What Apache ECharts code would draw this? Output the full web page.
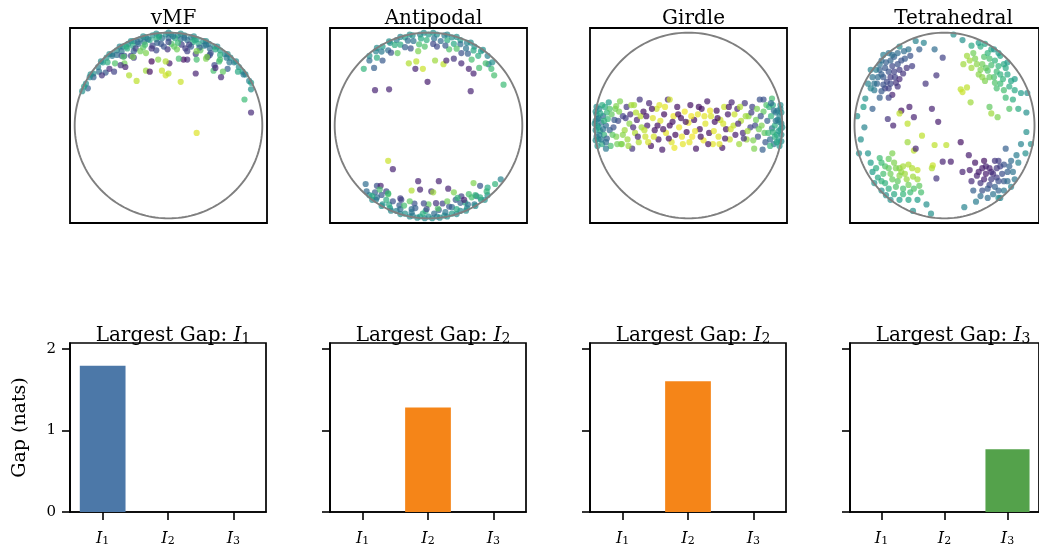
<!DOCTYPE html>
<html>
<head>
<meta charset="utf-8">
<script src="https://cdn.jsdelivr.net/npm/echarts@6/dist/echarts.min.js"></script>
<style>html,body{margin:0;padding:0;background:#fff}#c{width:1039px;height:548px}</style>
</head>
<body>
<div id="c"></div>
<script>
// ---- data (x, y on the unit disk; third value = colour value 0..1) ----
const vmfPts = [
[-0.80,0.56,.5],[-0.75,0.63,.45],[-0.70,0.68,.55],[-0.66,0.73,.5],[-0.60,0.77,.42],[-0.55,0.81,.5],[-0.49,0.85,.55],[-0.43,0.88,.45],[-0.37,0.91,.5],[-0.30,0.93,.4],[-0.24,0.95,.55],[-0.17,0.97,.5],[-0.10,0.97,.45],[-0.03,0.98,.5],[0.03,0.98,.55],[0.10,0.97,.45],[0.17,0.97,.5],[0.24,0.95,.42],[0.30,0.93,.55],[0.37,0.91,.5],[0.43,0.88,.45],[0.49,0.85,.5],[0.55,0.81,.55],[0.60,0.77,.45],[0.66,0.73,.5],[0.70,0.68,.42],[0.75,0.63,.5],[0.79,0.58,.55],
[-0.72,0.69,.48],[-0.63,0.77,.5],[-0.52,0.85,.46],[-0.40,0.91,.5],[-0.27,0.96,.48],[-0.13,0.99,.5],[0.00,1.00,.47],[0.13,0.99,.5],[0.27,0.96,.48],[0.40,0.91,.5],[0.52,0.85,.46],[0.63,0.77,.5],[0.72,0.69,.48],
[-0.74,0.58,.38],[-0.65,0.68,.62],[-0.55,0.76,.36],[-0.44,0.83,.64],[-0.32,0.88,.35],[-0.20,0.92,.6],[-0.07,0.94,.38],[0.07,0.94,.62],[0.20,0.92,.36],[0.32,0.88,.6],[0.44,0.83,.35],[0.55,0.76,.64],[0.65,0.68,.4],[0.74,0.58,.6],
[-0.26,0.90,.4],[-0.13,0.93,.62],[0.00,0.94,.36],[0.13,0.93,.38],[0.26,0.90,.62],[0.38,0.86,.4],[-0.38,0.86,.6],[-0.50,0.80,.38],
[-0.60,0.75,.4],[-0.45,0.85,.6],[-0.33,0.90,.35],[-0.22,0.93,.4],[-0.10,0.955,.6],[0.05,0.96,.4],[0.17,0.945,.35],[0.28,0.92,.6],[0.40,0.87,.38],[0.50,0.82,.6],[0.62,0.73,.4],
[-0.67,0.57,.28],[-0.57,0.67,.72],[-0.47,0.75,.25],[-0.37,0.80,.3],[-0.27,0.84,.74],[-0.17,0.86,.22],[-0.08,0.88,.28],[0.03,0.88,.72],[0.14,0.87,.2],[0.24,0.85,.3],[0.34,0.81,.75],[0.44,0.76,.24],[0.54,0.69,.7],[0.63,0.61,.3],
[-0.50,0.75,.25],[-0.35,0.83,.2],[-0.25,0.87,.7],[-0.12,0.89,.3],[0.00,0.90,.22],[0.10,0.89,.68],[0.22,0.87,.2],[0.33,0.84,.3],[0.45,0.78,.25],[0.55,0.71,.7],
[-0.58,0.58,.2],[-0.47,0.67,.78],[-0.37,0.73,.18],[-0.24,0.78,.8],[-0.13,0.81,.22],[-0.01,0.82,.15],[0.09,0.82,.78],[0.20,0.80,.2],[0.29,0.77,.18],[0.40,0.72,.8],[0.49,0.65,.22],[0.58,0.58,.75],
[-0.40,0.75,.2],[-0.30,0.80,.78],[-0.18,0.83,.15],[-0.05,0.85,.25],[0.06,0.85,.75],[0.18,0.83,.18],[0.30,0.80,.8],[0.42,0.74,.2],
[-0.86,0.40,.3],[-0.92,0.37,.5],[-0.80,0.52,.3],[-0.71,0.54,.15],[-0.63,0.61,.12],[-0.51,0.65,.15],[-0.46,0.63,.1],[-0.34,0.48,.9],[-0.42,0.54,.88],[-0.24,0.59,.85],[-0.20,0.58,.05],[-0.07,0.59,.92],[-0.03,0.54,.93],[0.00,0.56,.9],[0.13,0.47,.92],[0.01,0.67,.08],[-0.11,0.71,.82],[-0.18,0.69,.02],[-0.03,0.69,.88],[0.29,0.56,.1],[0.56,0.52,.12],[0.48,0.59,.7],[0.50,0.62,.12],[0.20,0.71,.12],[0.16,0.71,.05],[0.11,0.72,.7],[0.41,0.74,.8],[0.30,0.71,.7],[-0.48,0.74,.72],[-0.38,0.74,.8],
[-0.88,0.45,.5],[-0.84,0.52,.45],[-0.90,0.42,.55],[-0.83,0.55,.5],[0.82,0.55,.5],[0.86,0.48,.45],
[0.30,-0.08,.95],[0.88,0.14,.12],[0.81,0.28,.68],[0.88,0.39,.5],[0.88,0.46,.55],[0.80,0.55,.4]
];
const antipodalPts = [
[-0.63,0.75,.5],[-0.56,0.80,.45],[-0.49,0.85,.55],[-0.41,0.89,.5],[-0.34,0.92,.42],[-0.25,0.95,.55],[-0.17,0.97,.5],[-0.09,0.98,.45],[0.00,0.98,.55],[0.09,0.98,.5],[0.17,0.97,.42],[0.25,0.95,.5],[0.34,0.92,.55],[0.41,0.89,.45],[0.49,0.85,.5],[0.56,0.80,.55],[0.63,0.75,.45],
[-0.55,0.835,.48],[-0.42,0.907,.5],[-0.30,0.954,.46],[-0.20,0.98,.5],[-0.05,0.999,.48],[0.05,0.999,.5],[0.20,0.98,.46],[0.30,0.954,.5],[0.45,0.893,.48],[0.58,0.815,.5],
[-0.55,0.73,.62],[-0.43,0.81,.36],[-0.30,0.87,.62],[-0.16,0.91,.38],[-0.02,0.92,.64],[0.13,0.91,.35],[0.27,0.88,.6],[0.40,0.83,.38],[0.53,0.75,.62],[0.64,0.66,.4],
[-0.50,0.796,.4],[-0.36,0.868,.62],[-0.22,0.914,.35],[-0.08,0.937,.6],[0.06,0.938,.38],[0.20,0.918,.62],[0.34,0.876,.36],[0.48,0.808,.6],
[-0.49,0.70,.28],[-0.33,0.78,.75],[-0.19,0.83,.25],[-0.04,0.85,.72],[0.09,0.85,.22],[0.22,0.82,.72],[0.35,0.78,.25],[0.46,0.71,.7],[-0.58,0.62,.3],
[-0.40,0.784,.25],[-0.25,0.844,.3],[-0.10,0.874,.7],[0.05,0.879,.22],[0.18,0.861,.28],[0.30,0.827,.72],[0.42,0.773,.3],
[-0.57,0.38,.1],[-0.42,0.39,.1],[-0.01,0.47,.08],[0.45,0.37,.1],[-0.21,0.67,.88],[-0.13,0.69,.9],[-0.06,0.61,.92],[0.07,0.70,.85],[0.16,0.66,.9],[0.19,0.70,.1],[0.27,0.72,.15],[0.35,0.67,.12],[0.43,0.61,.1],[0.48,0.56,.1],[0.54,0.62,.7],[0.61,0.67,.7],[0.67,0.61,.68],[0.70,0.54,.7],[0.80,0.44,.68],[0.68,0.68,.5],[-0.69,0.61,.65],[-0.63,0.70,.35],[-0.11,0.80,.8],[-0.14,0.61,.1],
[-0.63,-0.75,.5],[-0.56,-0.80,.45],[-0.49,-0.85,.5],[-0.41,-0.89,.55],[-0.34,-0.92,.45],[-0.25,-0.95,.5],[-0.17,-0.97,.4],[-0.09,-0.98,.55],[0.00,-0.98,.5],[0.09,-0.98,.45],[0.17,-0.97,.5],[0.25,-0.95,.55],[0.34,-0.92,.45],[0.41,-0.89,.5],[0.49,-0.85,.4],[0.56,-0.80,.5],[0.63,-0.75,.5],
[-0.60,-0.80,.48],[-0.50,-0.866,.5],[-0.40,-0.917,.46],[-0.30,-0.954,.5],[-0.20,-0.98,.48],[-0.12,-0.993,.5],[-0.04,-0.999,.46],[0.04,-0.999,.5],[0.12,-0.993,.48],[0.20,-0.98,.5],[0.30,-0.954,.46],[0.40,-0.917,.5],[0.50,-0.866,.48],[0.60,-0.80,.5],
[-0.57,-0.72,.3],[-0.45,-0.80,.62],[-0.31,-0.86,.3],[-0.18,-0.90,.35],[-0.03,-0.92,.62],[0.11,-0.91,.3],[0.25,-0.88,.35],[0.39,-0.83,.62],[0.51,-0.76,.32],[0.63,-0.67,.6],
[-0.55,-0.775,.38],[-0.42,-0.852,.6],[-0.30,-0.901,.36],[-0.18,-0.933,.4],[-0.06,-0.948,.62],[0.06,-0.948,.35],[0.18,-0.933,.4],[0.30,-0.901,.6],[0.42,-0.852,.38],[0.55,-0.775,.62],
[-0.55,-0.65,.25],[-0.43,-0.74,.72],[-0.29,-0.80,.22],[-0.15,-0.84,.25],[0.00,-0.85,.75],[0.15,-0.84,.2],[0.29,-0.80,.28],[0.43,-0.74,.7],[0.55,-0.65,.25],
[-0.50,-0.748,.28],[-0.38,-0.816,.25],[-0.26,-0.862,.7],[-0.14,-0.889,.3],[-0.02,-0.90,.22],[0.10,-0.894,.72],[0.22,-0.873,.28],[0.34,-0.833,.3],[0.46,-0.774,.7],
[-0.45,-0.709,.2],[-0.30,-0.785,.18],[-0.20,-0.816,.75],[-0.05,-0.839,.22],[0.08,-0.836,.15],[0.20,-0.816,.78],[0.35,-0.764,.2],
[-0.43,-0.38,.92],[-0.38,-0.47,.1],[-0.11,-0.60,.1],[0.11,-0.60,.1],[0.48,-0.62,.8],[0.77,-0.58,.45],[0.71,-0.63,.65],[-0.67,-0.63,.35],[-0.51,-0.65,.1],[-0.52,-0.69,.7],[-0.43,-0.73,.68],[-0.18,-0.70,.88],[-0.09,-0.69,.1],[0.03,-0.71,.12],[0.05,-0.72,.85],[0.21,-0.68,.1],[0.27,-0.72,.8],[0.31,-0.78,.65],[0.38,-0.80,.1],[0.50,-0.75,.65],[0.62,-0.71,.65],[-0.66,-0.71,.35],[-0.60,-0.76,.6]
];
const girdlePts = [
[-0.99,0.05,.5],[-0.99,-0.05,.48],[-0.98,0.12,.52],[-0.98,-0.12,.45],[-0.97,0.00,.5],[-0.96,0.08,.4],[-0.96,-0.15,.55],[-0.95,0.18,.45],[-0.94,-0.06,.6],[-0.93,0.03,.38],[-0.92,-0.20,.62],[-0.91,0.10,.35],[-0.90,-0.10,.65],[-0.89,0.20,.6],[-0.88,0.00,.35],[-0.87,-0.14,.3],[-0.86,0.07,.68],[-0.85,0.25,.55],[-0.84,-0.05,.32],[-0.83,-0.22,.7],
[-1.00,0.02,.5],[-0.99,0.15,.5],[-0.99,-0.16,.5],[-0.98,0.20,.48],[-0.97,-0.22,.52],[-0.97,0.07,.45],[-0.96,-0.02,.55],[-0.95,-0.10,.42],[-0.94,0.13,.58],[-0.93,-0.15,.4],[-0.92,0.22,.62],[-0.91,-0.04,.38],[-0.90,0.05,.64],[-0.88,-0.18,.36],[-0.87,0.14,.66],
[-0.82,0.12,.75],[-0.80,-0.02,.25],[-0.78,0.18,.78],[-0.77,-0.12,.8],[-0.75,0.05,.22],[-0.73,0.26,.8],[-0.72,-0.20,.82],[-0.70,0.10,.2],[-0.68,-0.05,.85],[-0.66,0.20,.15],[-0.65,-0.15,.85],[-0.63,0.02,.82],[-0.62,0.12,.12],[-0.60,-0.25,.15],[-0.58,0.22,.85],[-0.57,-0.08,.88],[-0.55,0.06,.1],[-0.53,-0.18,.88],[-0.52,0.28,.15],[-0.50,-0.02,.85],[-0.77,0.21,.8],[-0.71,-0.20,.8],[-0.88,-0.25,.4],
[-0.84,0.18,.72],[-0.81,-0.10,.75],[-0.79,0.06,.28],[-0.76,-0.20,.78],[-0.74,0.15,.8],[-0.70,-0.10,.82],[-0.67,0.08,.18],[-0.64,-0.22,.85],[-0.61,0.22,.86],[-0.59,-0.02,.12],[-0.56,0.14,.88],[-0.54,-0.12,.1],[-0.51,0.10,.9],
[-0.48,0.15,.05],[-0.46,-0.12,.92],[-0.44,0.00,.08],[-0.42,0.24,.1],[-0.40,-0.22,.05],[-0.38,0.08,.95],[-0.36,-0.05,.05],[-0.34,0.18,.92],[-0.32,-0.15,.06],[-0.30,0.05,.95],[-0.28,-0.26,.07],[-0.26,0.12,.04],[-0.24,-0.08,.96],[-0.22,0.28,.1],[-0.20,0.00,.03],[-0.18,-0.18,.95],[-0.16,0.10,.97],[-0.14,-0.10,.03],[-0.12,0.20,.05],[-0.10,-0.02,.97],[-0.08,0.08,.04],[-0.06,-0.20,.96],[-0.04,0.15,.98],[-0.02,-0.07,.03],[0.00,0.03,.97],[0.02,0.22,.05],[0.04,-0.12,.98],[0.06,0.06,.04],[0.08,-0.25,.06],[0.10,0.12,.96],[0.12,-0.04,.03],[0.14,0.18,.05],[0.16,-0.16,.97],[0.18,0.02,.95],[0.20,0.26,.07],[0.22,-0.08,.04],[0.24,0.10,.94],[0.26,-0.20,.96],[0.28,0.04,.05],[0.30,0.16,.04],[0.32,-0.12,.95],[0.34,0.06,.92],[0.36,-0.24,.06],[0.38,0.20,.92],[0.40,-0.04,.04],[0.42,0.12,.07],[0.44,-0.15,.92],[0.46,0.25,.1],[0.48,0.00,.9],[0.50,-0.10,.08],[-0.20,0.28,.93],
[-0.47,-0.05,.9],[-0.45,0.10,.06],[-0.43,-0.18,.94],[-0.39,0.18,.05],[-0.37,-0.12,.94],[-0.33,0.00,.04],[-0.31,0.22,.95],[-0.27,-0.04,.05],[-0.25,0.20,.96],[-0.21,-0.14,.04],[-0.17,0.04,.05],[-0.15,-0.24,.97],[-0.11,0.12,.03],[-0.07,-0.12,.97],[-0.03,0.04,.04],[0.01,-0.18,.96],[0.03,0.10,.98],[0.07,-0.06,.97],[0.11,0.20,.04],[0.13,-0.12,.04],[0.17,0.10,.96],[0.21,-0.20,.05],[0.23,0.16,.97],[0.27,-0.06,.96],[0.31,0.08,.03],[0.33,-0.20,.95],[0.37,0.02,.94],[0.39,-0.14,.06],[0.43,0.20,.06],[0.45,-0.04,.93],[0.49,0.12,.92],
[0.52,0.18,.1],[0.54,-0.20,.85],[0.56,0.05,.88],[0.58,-0.08,.12],[0.60,0.24,.15],[0.62,-0.15,.85],[0.64,0.10,.82],[0.66,-0.02,.2],[0.68,0.20,.2],[0.70,-0.25,.8],[0.72,0.06,.78],[0.74,-0.12,.22],[0.76,0.28,.25],[0.78,0.00,.8],[0.80,0.15,.75],[0.82,-0.18,.28],[0.80,0.28,.25],[0.79,-0.26,.3],
[0.53,0.02,.1],[0.55,0.20,.88],[0.59,-0.14,.14],[0.61,0.10,.85],[0.63,-0.06,.86],[0.67,0.14,.18],[0.69,-0.16,.8],[0.71,0.00,.22],[0.73,0.18,.8],[0.75,-0.04,.78],[0.77,0.10,.25],[0.81,-0.08,.75],[0.83,0.22,.72],
[0.84,0.05,.3],[0.85,-0.08,.68],[0.86,0.20,.65],[0.87,-0.15,.35],[0.88,0.10,.65],[0.89,-0.03,.35],[0.90,0.22,.6],[0.91,-0.20,.38],[0.92,0.00,.62],[0.93,0.14,.4],[0.94,-0.10,.58],[0.95,0.06,.42],[0.96,-0.16,.55],[0.97,0.10,.45],[0.98,-0.04,.52],[0.98,0.18,.48],[0.99,0.02,.5],[0.99,-0.10,.5],[0.89,0.29,.7],
[1.00,-0.02,.5],[0.99,0.14,.5],[0.99,-0.17,.5],[0.98,0.22,.48],[0.97,-0.22,.52],[0.97,0.04,.45],[0.96,-0.06,.55],[0.95,0.16,.42],[0.94,-0.18,.58],[0.93,0.05,.4],[0.92,-0.12,.62],[0.91,0.16,.38],[0.90,-0.07,.64],[0.88,0.24,.36],[0.87,-0.22,.66]
];
const tetraPts = [
[-0.62,0.58,.25],[-0.68,0.52,.28],[-0.58,0.64,.22],[-0.72,0.60,.3],[-0.55,0.52,.2],[-0.65,0.68,.3],[-0.75,0.45,.32],[-0.50,0.60,.18],[-0.60,0.45,.22],[-0.70,0.70,.35],[-0.48,0.70,.25],[-0.80,0.52,.38],[-0.66,0.40,.2],[-0.56,0.74,.3],[-0.78,0.38,.4],[-0.42,0.62,.15],[-0.52,0.42,.15],[-0.62,0.78,.38],[-0.85,0.45,.45],[-0.45,0.80,.35],[-0.72,0.30,.3],[-0.38,0.75,.25],[-0.32,0.91,.45],[-0.23,0.89,.45],[-0.28,0.82,.3],[-0.88,0.29,.5],[-0.90,0.20,.55],[-0.82,0.60,.45],[-0.58,0.33,.1],
[-0.66,0.62,.28],[-0.60,0.70,.32],[-0.70,0.55,.3],[-0.64,0.47,.22],[-0.56,0.58,.2],[-0.74,0.52,.35],[-0.68,0.44,.25],[-0.60,0.52,.18],[-0.52,0.66,.25],[-0.78,0.45,.38],[-0.72,0.66,.38],[-0.62,0.40,.2],[-0.54,0.46,.16],[-0.46,0.56,.15],[-0.58,0.76,.36],[-0.68,0.76,.42],[-0.76,0.60,.42],[-0.82,0.40,.45],[-0.50,0.50,.12],[-0.44,0.72,.28],[-0.52,0.78,.35],[-0.40,0.82,.38],[-0.62,0.30,.2],[-0.70,0.37,.28],[-0.36,0.64,.18],
[0.48,0.59,.72],[0.42,0.66,.78],[0.55,0.52,.7],[0.38,0.55,.82],[0.60,0.64,.65],[0.50,0.72,.7],[0.45,0.48,.8],[0.65,0.50,.65],[0.34,0.72,.8],[0.58,0.40,.7],[0.68,0.62,.6],[0.30,0.62,.85],[0.52,0.82,.6],[0.40,0.85,.62],[0.72,0.42,.62],[0.62,0.75,.58],[0.25,0.75,.85],[0.78,0.50,.55],[0.68,0.30,.68],[0.38,0.89,.55],[0.20,0.92,.5],[0.85,0.35,.55],[0.82,0.18,.6],[0.72,0.18,.72],[0.91,0.14,.5],
[0.52,0.65,.7],[0.46,0.62,.75],[0.58,0.58,.68],[0.44,0.74,.72],[0.56,0.70,.65],[0.62,0.55,.64],[0.50,0.52,.76],[0.40,0.60,.8],[0.66,0.66,.6],[0.36,0.66,.82],[0.48,0.78,.65],[0.62,0.45,.68],[0.70,0.55,.6],[0.32,0.78,.78],[0.42,0.52,.82],[0.56,0.46,.72],[0.74,0.48,.58],[0.28,0.70,.85],[0.45,0.88,.58],[0.30,0.86,.6],[0.60,0.78,.55],[0.70,0.68,.55],[0.78,0.38,.6],[0.66,0.38,.7],[0.76,0.28,.62],
[0.18,0.39,.9],[0.20,0.36,.92],[0.25,0.41,.9],[0.29,0.25,.85],[0.52,0.13,.85],[0.59,0.09,.8],[0.50,0.20,.75],
[-0.50,-0.46,.82],[-0.56,-0.40,.8],[-0.44,-0.52,.85],[-0.60,-0.52,.78],[-0.40,-0.42,.88],[-0.52,-0.60,.75],[-0.66,-0.44,.72],[-0.35,-0.55,.85],[-0.58,-0.30,.8],[-0.46,-0.68,.7],[-0.70,-0.60,.65],[-0.30,-0.48,.9],[-0.62,-0.68,.62],[-0.38,-0.72,.68],[-0.72,-0.35,.68],[-0.28,-0.65,.75],[-0.80,-0.50,.55],[-0.50,-0.80,.55],[-0.30,-0.80,.55],[-0.85,-0.30,.52],[-0.93,-0.15,.5],[-0.65,-0.75,.5],[-0.20,-0.85,.5],[-0.15,-0.95,.5],
[-0.48,-0.50,.84],[-0.54,-0.46,.8],[-0.46,-0.44,.86],[-0.58,-0.58,.76],[-0.42,-0.58,.84],[-0.62,-0.46,.75],[-0.50,-0.54,.82],[-0.36,-0.46,.88],[-0.54,-0.66,.72],[-0.68,-0.52,.7],[-0.40,-0.64,.78],[-0.62,-0.36,.76],[-0.30,-0.58,.85],[-0.70,-0.40,.68],[-0.46,-0.74,.66],[-0.34,-0.68,.72],[-0.74,-0.56,.6],[-0.56,-0.74,.6],[-0.76,-0.46,.62],[-0.26,-0.72,.7],[-0.66,-0.62,.64],[-0.40,-0.80,.58],[-0.82,-0.40,.55],[-0.78,-0.62,.52],[-0.60,-0.80,.5],
[0.52,-0.50,.12],[0.46,-0.44,.1],[0.58,-0.56,.18],[0.44,-0.58,.1],[0.62,-0.44,.2],[0.50,-0.64,.22],[0.38,-0.50,.08],[0.66,-0.60,.28],[0.56,-0.38,.15],[0.42,-0.70,.25],[0.70,-0.50,.3],[0.34,-0.40,.06],[0.60,-0.70,.32],[0.74,-0.38,.35],[0.30,-0.60,.12],[0.48,-0.78,.35],[0.78,-0.58,.4],[0.82,-0.40,.45],[0.68,-0.25,.3],[0.85,-0.20,.45],[0.90,-0.30,.5],[0.35,-0.82,.42],[0.22,-0.88,.45],[0.62,-0.78,.45],[0.91,-0.07,.5],
[0.50,-0.46,.1],[0.54,-0.52,.14],[0.46,-0.52,.08],[0.58,-0.46,.16],[0.52,-0.58,.18],[0.42,-0.46,.08],[0.60,-0.60,.24],[0.64,-0.52,.24],[0.48,-0.68,.28],[0.40,-0.62,.15],[0.56,-0.66,.3],[0.66,-0.42,.25],[0.36,-0.54,.1],[0.70,-0.60,.35],[0.72,-0.44,.32],[0.44,-0.38,.05],[0.60,-0.38,.18],[0.54,-0.74,.38],[0.66,-0.70,.4],[0.76,-0.50,.38],[0.40,-0.76,.35],[0.80,-0.32,.42],[0.28,-0.48,.08],[0.32,-0.70,.3],[0.74,-0.66,.45],
[-0.48,0.16,.05],[-0.39,0.20,.08],[-0.34,0.09,.1],[-0.14,0.18,.1],[-0.07,0.04,.08],[-0.63,0.07,.15],[-0.57,0.00,.1],[-0.80,0.18,.3],[-0.89,-0.02,.45],
[-0.50,0.13,.9],[-0.41,0.02,.9],[-0.25,-0.11,.9],[-0.41,-0.18,.85],[-0.34,-0.27,.9],[-0.11,-0.21,.9],[0.02,-0.21,.9],[-0.13,-0.43,.92],[-0.14,-0.46,.88],
[0.18,-0.18,.05],[0.07,-0.39,.08],[0.20,-0.50,.1],[0.27,-0.32,.08],[-0.02,-0.39,.1],[-0.32,-0.25,.1],[-0.09,-0.57,.15],
[-0.11,0.82,.35],[-0.02,0.73,.2],[-0.09,0.54,.15],[-0.21,0.45,.15],[0.21,0.66,.85],
[-0.97,0.10,.5],[-0.95,-0.30,.5],[-0.50,0.85,.48],[0.10,0.98,.5],[0.55,0.82,.52],[0.92,0.35,.5],[0.96,-0.20,.5],[0.60,-0.78,.48],[-0.70,-0.70,.5],[-0.35,-0.92,.5]
];
const panelTitles = ['vMF', 'Antipodal', 'Girdle', 'Tetrahedral'];
const gapCategories = ['I1', 'I2', 'I3'];
const gapValues = [
  [1.79, 0, 0],
  [0, 1.28, 0],
  [0, 1.60, 0],
  [0, 0, 0.77]
];
const largestGap = ['I1', 'I2', 'I2', 'I3'];
const yTickValues = [0, 1, 2];
const yMax = 2.07;

// ---- styling ----
const FONT = 'DejaVu Serif';
const barColors = ['#4c78a8', '#f58518', '#f58518', '#54a24b'];
const viridis = ['#440154','#482878','#3e4989','#31688e','#26828e','#1f9e89','#35b779','#6ece58','#b5de2b','#fde725'];
const mathLabel = s => '{i|' + s[0] + '}{s|' + s.slice(1) + '}';

const pointSets = [vmfPts, antipodalPts, girdlePts, tetraPts];
const step = 260, left0 = 70;

// unit circle outline (sphere rim)
const rim = [];
for (let k = 0; k <= 180; k++) { const a = k / 180 * 2 * Math.PI; rim.push([Math.cos(a), Math.sin(a)]); }

const grids = [], xAxes = [], yAxes = [], series = [], titles = [];
for (let i = 0; i < 4; i++) {
  grids.push({left: left0 + i*step, top: 28, width: 197, height: 195, show: true, borderColor: '#000', borderWidth: 1.8, backgroundColor: '#fff'});
  xAxes.push({type: 'value', gridIndex: i, min: -1.05, max: 1.05, show: false});
  yAxes.push({type: 'value', gridIndex: i, min: -1.05, max: 1.05, show: false});
  titles.push({text: panelTitles[i], left: left0 + i*step + 98.5, top: 4, textAlign: 'center',
    textStyle: {fontFamily: FONT, fontSize: 20, fontWeight: 'normal', color: '#000'}});
}
for (let i = 0; i < 4; i++) {
  const g = 4 + i;
  grids.push({left: left0 + i*step, top: 343, width: 196, height: 169, show: true, borderColor: '#000', borderWidth: 1.7, backgroundColor: '#fff'});
  xAxes.push({type: 'category', gridIndex: g, data: gapCategories,
    axisLine: {show: true, lineStyle: {color: '#000', width: 1.7}},
    axisTick: {show: true, alignWithLabel: true, length: 8, lineStyle: {color: '#000', width: 1.6}},
    axisLabel: {margin: 15, formatter: v => mathLabel(v), rich: {
      i: {fontFamily: FONT, fontStyle: 'italic', fontSize: 16, lineHeight: 20, verticalAlign: 'bottom', color: '#000'},
      s: {fontFamily: FONT, fontSize: 11, lineHeight: 11, verticalAlign: 'bottom', color: '#000'}}},
    splitLine: {show: false}});
  yAxes.push({type: 'value', gridIndex: g, min: 0, max: yMax,
    axisLine: {show: true, lineStyle: {color: '#000', width: 1.7}},
    axisTick: {show: true, length: 8, customValues: yTickValues, lineStyle: {color: '#000', width: 1.6}},
    axisLabel: {show: i === 0, customValues: yTickValues, margin: 14, fontFamily: FONT, fontSize: 15, color: '#000'},
    splitLine: {show: false},
    name: i === 0 ? 'Gap (nats)' : '', nameLocation: 'middle', nameRotate: 90, nameGap: 40,
    nameTextStyle: {fontFamily: FONT, fontSize: 19, color: '#000'}});
  titles.push({text: '{t|Largest Gap: }' + mathLabel(largestGap[i]), left: left0 + i*step + 98, top: 317, textAlign: 'center',
    textStyle: {fontFamily: FONT, fontSize: 20, fontWeight: 'normal', color: '#000',
      rich: {t: {fontFamily: FONT, fontSize: 20, lineHeight: 24, verticalAlign: 'bottom', color: '#000'},
             i: {fontFamily: FONT, fontStyle: 'italic', fontSize: 20, lineHeight: 24, verticalAlign: 'bottom', color: '#000'},
             s: {fontFamily: FONT, fontSize: 14, lineHeight: 14, verticalAlign: 'bottom', color: '#000'}}}});
}
for (let i = 0; i < 4; i++) {
  series.push({type: 'scatter', xAxisIndex: i, yAxisIndex: i, data: pointSets[i], symbolSize: 6.2,
    itemStyle: {opacity: 0.7}, z: 2, silent: true, animation: false});
}
for (let i = 0; i < 4; i++) {
  series.push({type: 'line', xAxisIndex: i, yAxisIndex: i, data: rim, showSymbol: false, smooth: false,
    lineStyle: {color: '#7f7f7f', width: 1.9}, z: 3, silent: true, animation: false});
}
for (let i = 0; i < 4; i++) {
  series.push({type: 'bar', xAxisIndex: 4+i, yAxisIndex: 4+i, data: gapValues[i], barWidth: '70%',
    itemStyle: {color: barColors[i]}, animation: false});
}

const chart = echarts.init(document.getElementById('c'), null, {renderer: 'canvas'});
chart.setOption({
  animation: false,
  backgroundColor: '#fff',
  title: titles,
  grid: grids,
  xAxis: xAxes,
  yAxis: yAxes,
  visualMap: {show: false, type: 'continuous', seriesIndex: [0,1,2,3], dimension: 2, min: 0, max: 1, inRange: {color: viridis}},
  series: series
});
</script>
</body>
</html>
